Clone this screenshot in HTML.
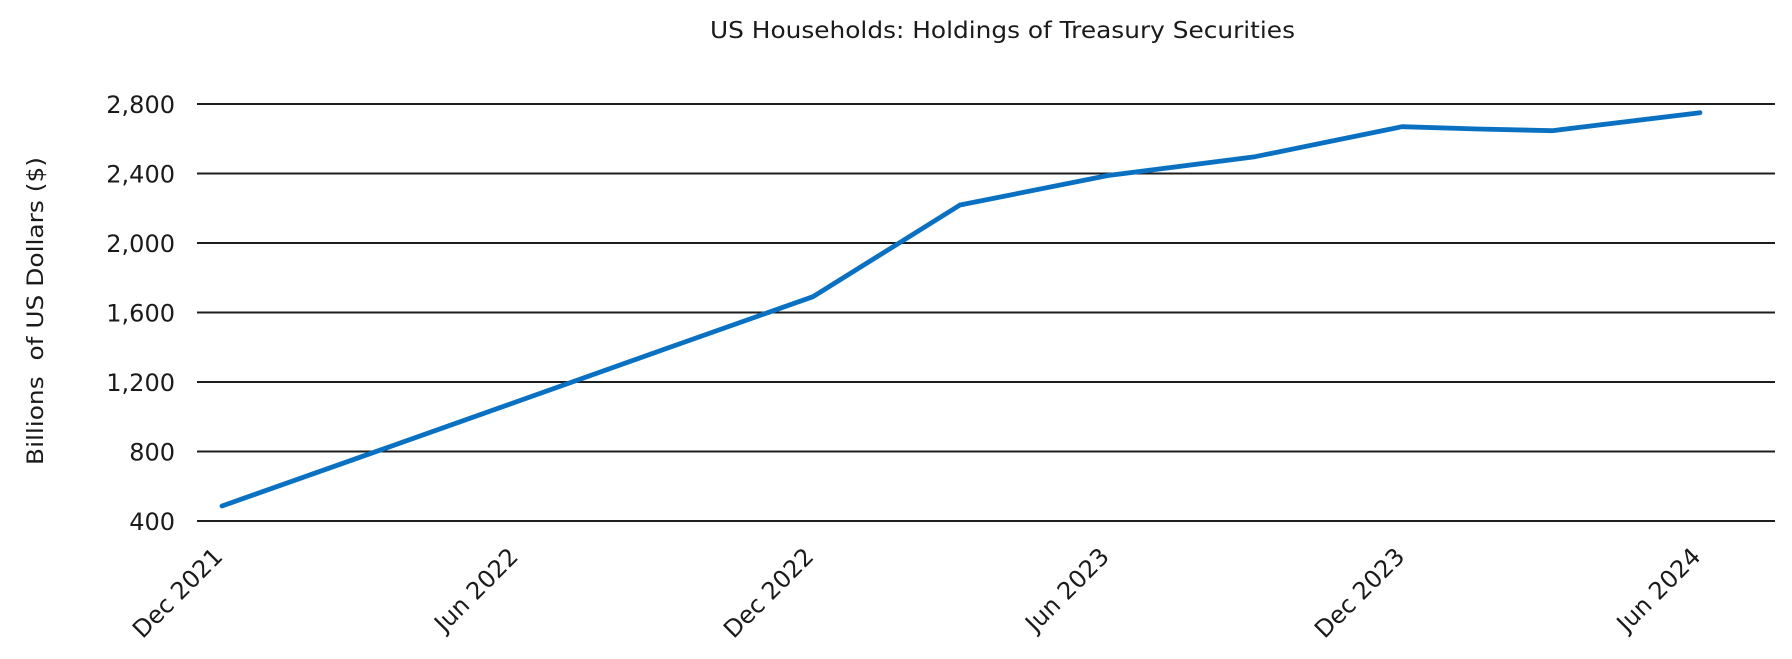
<!DOCTYPE html>
<html>
<head>
<meta charset="utf-8">
<style>
  html, body { margin:0; padding:0; background:#ffffff; }
  body { width:1792px; height:659px; overflow:hidden; }
  svg { display:block; }
  text { font-family: "DejaVu Sans", "Liberation Sans", sans-serif; fill:#1a1a1a; }
</style>
</head>
<body>
<svg width="1792" height="659" viewBox="0 0 1792 659" xmlns="http://www.w3.org/2000/svg">
  <rect x="0" y="0" width="1792" height="659" fill="#ffffff"/>

  <!-- Title -->
  <text x="1002.5" y="38" font-size="23" text-anchor="middle" textLength="585" lengthAdjust="spacingAndGlyphs">US Households: Holdings of Treasury Securities</text>

  <!-- Y axis title -->
  <text transform="translate(43,311) rotate(-90)" font-size="22" text-anchor="middle" textLength="308" lengthAdjust="spacingAndGlyphs" xml:space="preserve">Billions  of US Dollars ($)</text>

  <!-- Gridlines -->
  <g stroke="#1e1e1e" stroke-width="1.9">
    <line x1="197" y1="104" x2="1775" y2="104"/>
    <line x1="197" y1="173.5" x2="1775" y2="173.5"/>
    <line x1="197" y1="243" x2="1775" y2="243"/>
    <line x1="197" y1="312.5" x2="1775" y2="312.5"/>
    <line x1="197" y1="382" x2="1775" y2="382"/>
    <line x1="197" y1="451.5" x2="1775" y2="451.5"/>
    <line x1="197" y1="521" x2="1775" y2="521"/>
  </g>

  <!-- Y tick labels -->
  <g font-size="24" text-anchor="end">
    <text x="175" y="113">2,800</text>
    <text x="175" y="182.5">2,400</text>
    <text x="175" y="252">2,000</text>
    <text x="175" y="321.5">1,600</text>
    <text x="175" y="391">1,200</text>
    <text x="175" y="460.5">800</text>
    <text x="175" y="530">400</text>
  </g>

  <!-- X tick labels -->
  <g font-size="24" text-anchor="end">
    <text transform="translate(224,558) rotate(-45)">Dec 2021</text>
    <text transform="translate(519.6,558) rotate(-45)">Jun 2022</text>
    <text transform="translate(815,558) rotate(-45)">Dec 2022</text>
    <text transform="translate(1110.6,558) rotate(-45)">Jun 2023</text>
    <text transform="translate(1406,558) rotate(-45)">Dec 2023</text>
    <text transform="translate(1702,558) rotate(-45)">Jun 2024</text>
  </g>

  <!-- Series -->
  <polyline fill="none" stroke="#0a71c2" stroke-width="4.8" stroke-linejoin="round" stroke-linecap="round"
    points="222,506 370,453.7 517.6,401.4 665,349 813,296.7 960,205 1108,175.5 1255,156.7 1402,126.7 1478,129 1552,130.7 1700,112.7"/>
</svg>
</body>
</html>
